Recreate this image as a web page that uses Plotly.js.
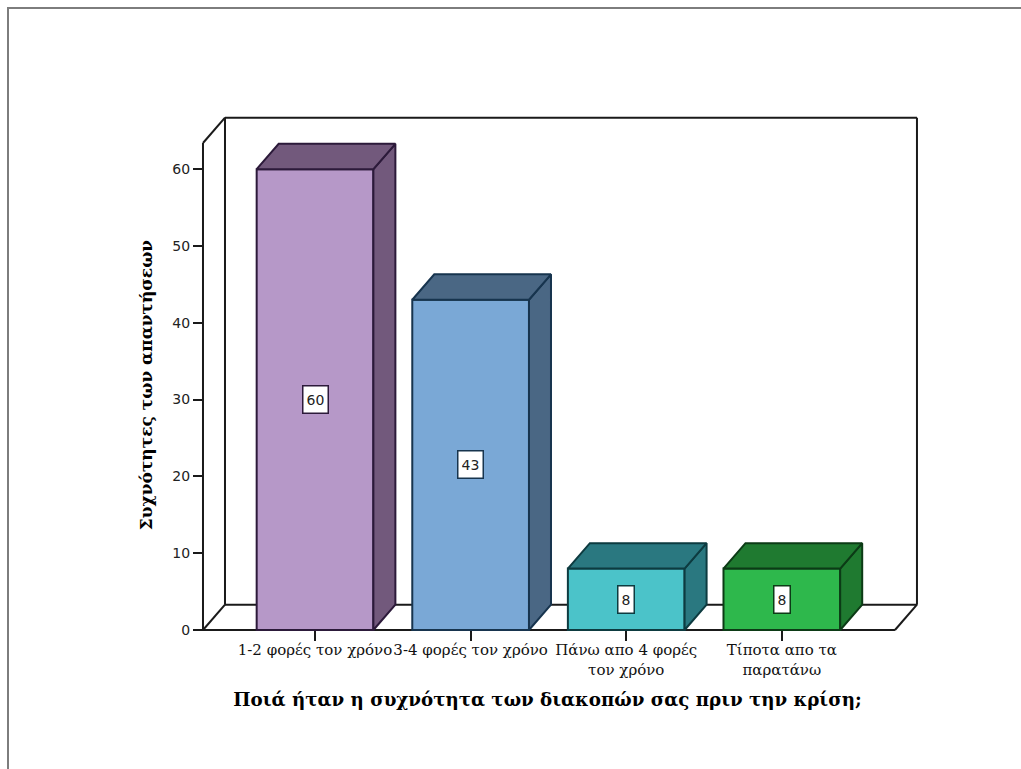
<!DOCTYPE html>
<html>
<head>
<meta charset="utf-8">
<script src="https://cdn.plot.ly/plotly-3.0.1.min.js"></script>
<style>
  html, body { margin: 0; padding: 0; background: #fff; overflow: hidden; }
  #chart { position: absolute; left: 0; top: 0; width: 1021px; height: 769px; }
  #sheet { position: absolute; left: 7px; top: 7px; right: 0; bottom: 0;
           border-left: 2px solid #7d7d7d; border-top: 2px solid #7d7d7d; pointer-events: none; }
</style>
</head>
<body>
<div id="chart"></div>
<div id="sheet"></div>
<script>
// Response counts per holiday frequency
const categories = ["1-2 φορές τον χρόνο", "3-4 φορές τον χρόνο", "Πάνω απο 4 φορές<br>τον χρόνο", "Τίποτα απο τα<br>παρατάνω"];
const counts = [60, 43, 8, 8];
const positions = [0, 1, 2, 3];
const yTicks = [0, 10, 20, 30, 40, 50, 60];

const frontColors = ["#B698C8", "#7AA8D6", "#4BC3C9", "#2EB84C"];
const depthColors = ["#72597C", "#4A6784", "#2A7880", "#1F7A30"];
const edgeColors  = ["#2C1A3A", "#17344E", "#0D3B40", "#0C3B16"];

// Oblique projection: how far the back plane is shifted, in axis units
const depthX = 0.1414, depthY = 3.3;
const barWidth = 0.75;
const floorLeft = -0.72, floorRight = 3.727, wallTop = 63.4;

const frameSegments = [
  [floorLeft, 0, floorLeft, wallTop],
  [floorLeft, 0, floorRight, 0],
  [floorLeft, 0, floorLeft + depthX, depthY],
  [floorRight, 0, floorRight + depthX, depthY],
  [floorLeft, wallTop, floorLeft + depthX, wallTop + depthY],
  [floorLeft + depthX, depthY, floorRight + depthX, depthY],
  [floorLeft + depthX, depthY, floorLeft + depthX, wallTop + depthY],
  [floorRight + depthX, depthY, floorRight + depthX, wallTop + depthY],
  [floorLeft + depthX, wallTop + depthY, floorRight + depthX, wallTop + depthY]
];

const shapes = frameSegments.map(s => ({
  type: "line", layer: "below", xref: "x", yref: "y",
  x0: s[0], y0: s[1], x1: s[2], y1: s[3],
  line: { color: "#1a1a1a", width: 2 }
}));

const frontBars = {
  type: "bar", x: positions, y: counts, width: barWidth,
  marker: { color: frontColors, line: { color: edgeColors, width: 2 } },
  hoverinfo: "skip", showlegend: false
};

// Top and right-hand faces of each bar
const faces = [];
counts.forEach((v, i) => {
  const l = positions[i] - barWidth / 2, r = positions[i] + barWidth / 2;
  const common = {
    type: "scatter", mode: "lines", fill: "toself", fillcolor: depthColors[i],
    line: { color: edgeColors[i], width: 2 }, hoverinfo: "skip", showlegend: false
  };
  faces.push(Object.assign({}, common, {
    x: [r, r + depthX, r + depthX, r, r],
    y: [0, depthY, v + depthY, v, 0]
  }));
  faces.push(Object.assign({}, common, {
    x: [l, l + depthX, r + depthX, r, l],
    y: [v, v + depthY, v + depthY, v, v]
  }));
});

const valueLabels = counts.map((v, i) => ({
  x: positions[i], y: v / 2, xref: "x", yref: "y", text: String(v), showarrow: false,
  font: { family: "DejaVu Sans", size: 14, color: "#222" }, height: 20,
  bgcolor: "#ffffff", bordercolor: edgeColors[i], borderwidth: 1.5, borderpad: 3
}));

const layout = {
  width: 1021, height: 769,
  margin: { l: 170, r: 96, t: 110, b: 109 },
  paper_bgcolor: "#fff", plot_bgcolor: "#fff",
  showlegend: false, shapes: shapes, annotations: valueLabels,
  xaxis: {
    range: [-0.932, 3.92], tickmode: "array", tickvals: positions, ticktext: categories,
    anchor: "free", position: 0.0545,
    showgrid: false, zeroline: false, showline: false,
    ticks: "outside", ticklen: 10, tickwidth: 2, tickcolor: "#1a1a1a", ticklabelstandoff: -4,
    tickangle: 0, tickfont: { family: "DejaVu Serif", size: 15, color: "#111" },
    title: { text: "Ποιά ήταν η συχνότητα των διακοπών σας πριν την κρίση;",
             font: { family: "DejaVu Serif", size: 18.25, color: "#000", weight: "bold" }, standoff: 15 }
  },
  yaxis: {
    range: [-3.906, 67.7], tickmode: "array", tickvals: yTicks,
    anchor: "free", position: 0.0437,
    showgrid: false, zeroline: false, showline: false,
    ticks: "outside", ticklen: 10, tickwidth: 2, tickcolor: "#1a1a1a",
    tickfont: { family: "DejaVu Sans", size: 14, color: "#222" },
    title: { text: "Συχνότητες των απαντήσεων",
             font: { family: "DejaVu Serif", size: 17, color: "#000", weight: "bold" }, standoff: 14 }
  }
};

Plotly.newPlot("chart", [frontBars].concat(faces), layout, { displayModeBar: false, staticPlot: true });
</script>
</body>
</html>
